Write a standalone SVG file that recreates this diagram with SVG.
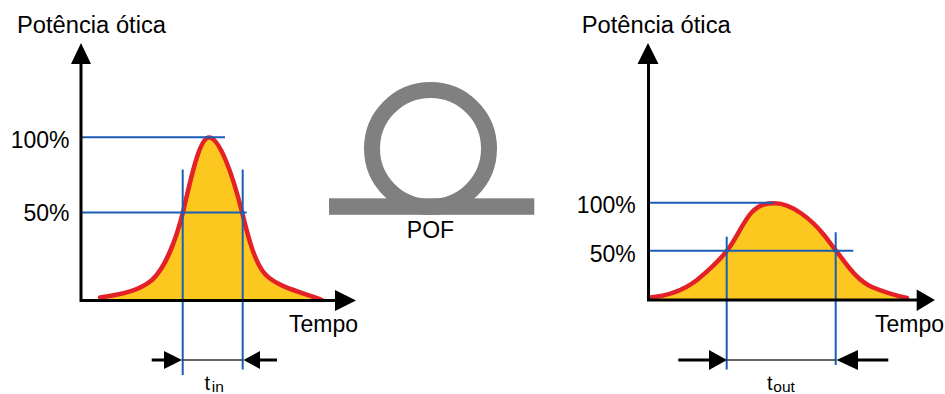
<svg xmlns="http://www.w3.org/2000/svg" width="945" height="394" viewBox="0 0 945 394">
  <style>
    text { font-family: "Liberation Sans", Arial, sans-serif; fill: #000; }
    .lbl { font-size: 23px; }
    .t { font-size: 20px; }
    .sub { font-size: 15.5px; }
    .fill { fill: #fcc820; stroke: none; }
    .pulse { fill: none; stroke: #e42127; stroke-width: 4.5; stroke-linejoin: round; stroke-linecap: round; }
    .ref { stroke: #1c5db4; stroke-width: 2; fill: none; }
    .axis { stroke: #000; stroke-width: 3; fill: none; }
    .head { fill: #000; stroke: none; }
    .span { stroke: #333; stroke-width: 1.5; }
    .fiber { fill: none; stroke: #808080; stroke-width: 16; }
  </style>
  <rect width="945" height="394" fill="#fff"/>

  <!-- input pulse -->
  <g id="chart-in">
    <path class="fill" d="M100,297.5 C125,294 140,290 152,280 C165,268 176,240 183,212 C190,183 199,137.5 209,137.5 C219,137.5 232,172 242,212 C247,232 254,262 265,274 C278,288 305,293 322,300 L100,300 Z"/>
    <path class="pulse" d="M100,297.5 C125,294 140,290 152,280 C165,268 176,240 183,212 C190,183 199,137.5 209,137.5 C219,137.5 232,172 242,212 C247,232 254,262 265,274 C278,288 305,293 322,300"/>
    <line class="ref" x1="81" y1="137.3" x2="225" y2="137.3"/>
    <line class="ref" x1="81" y1="212.5" x2="246.7" y2="212.5"/>
    <line class="ref" x1="182.7" y1="169.5" x2="182.7" y2="375"/>
    <line class="ref" x1="242.7" y1="169.5" x2="242.7" y2="369.5"/>
    <!-- axes -->
    <polyline class="axis" points="81,62 81,300.5 336,300.5"/>
    <polygon class="head" points="81,43 71,64 91,64"/>
    <polygon class="head" points="335,290 356,300.5 335,311"/>
    <!-- width marker -->
    <line class="axis" x1="151.7" y1="360" x2="166" y2="360"/>
    <polygon class="head" points="164,351 182,360 164,369"/>
    <line class="span" x1="182" y1="360" x2="243" y2="360"/>
    <polygon class="head" points="243.5,360 260,351 260,369"/>
    <line class="axis" x1="258" y1="360" x2="277" y2="360"/>
    <text class="lbl" x="17" y="33" textLength="149" lengthAdjust="spacingAndGlyphs">Potência ótica</text>
    <text class="lbl" x="69.5" y="147.7" text-anchor="end">100%</text>
    <text class="lbl" x="69.5" y="220.7" text-anchor="end">50%</text>
    <text class="lbl" x="289" y="332.3">Tempo</text>
    <text><tspan class="t" x="204.5" y="389.5">t</tspan><tspan class="sub" x="211.7" y="391.5">in</tspan></text>
  </g>

  <!-- fibre loop -->
  <g id="fiber">
    <circle class="fiber" cx="430.5" cy="148.5" r="58.5"/>
    <rect x="329" y="198.3" width="205.3" height="16.5" fill="#808080"/>
    <text class="lbl" x="430.5" y="238.3" text-anchor="middle">POF</text>
  </g>

  <!-- output pulse -->
  <g id="chart-out">
    <path class="fill" d="M649,297.5 C668,296 684,290 697,280 C708,271 718,262 727,250.7 C736,239.3 744,220 752,212 C760,204 767,203.3 775,203.3 C792,203.3 812,220 824,235 C829,241 832,246 836,250.7 C846,263 856,280 872,287 C886,293 898,296 907,298 L907,300 L649,300 Z"/>
    <path class="pulse" d="M649,297.5 C668,296 684,290 697,280 C708,271 718,262 727,250.7 C736,239.3 744,220 752,212 C760,204 767,203.3 775,203.3 C792,203.3 812,220 824,235 C829,241 832,246 836,250.7 C846,263 856,280 872,287 C886,293 898,296 907,298"/>
    <line class="ref" x1="648.5" y1="202.7" x2="774" y2="202.7"/>
    <line class="ref" x1="648.5" y1="250.7" x2="853.3" y2="250.7"/>
    <line class="ref" x1="726.7" y1="236.7" x2="726.7" y2="369.5"/>
    <line class="ref" x1="835.7" y1="232.3" x2="835.7" y2="365"/>
    <!-- axes -->
    <polyline class="axis" points="648.5,62 648.5,300 918,300"/>
    <polygon class="head" points="648,43 637.5,64 658.5,64"/>
    <polygon class="head" points="916.7,289.5 935,300 916.7,311"/>
    <!-- width marker -->
    <line class="axis" x1="678.3" y1="360" x2="711" y2="360"/>
    <polygon class="head" points="709,350 727,360 709,370"/>
    <line class="span" x1="727" y1="360" x2="836" y2="360"/>
    <polygon class="head" points="836.5,360 858,350 858,370"/>
    <line class="axis" x1="856" y1="360" x2="888.3" y2="360"/>
    <text class="lbl" x="581.7" y="33" textLength="149" lengthAdjust="spacingAndGlyphs">Potência ótica</text>
    <text class="lbl" x="635.7" y="213.3" text-anchor="end">100%</text>
    <text class="lbl" x="635.7" y="262.3" text-anchor="end">50%</text>
    <text class="lbl" x="875" y="332.3">Tempo</text>
    <text><tspan class="t" x="767" y="390">t</tspan><tspan class="sub" x="773.3" y="392">out</tspan></text>
  </g>
</svg>
